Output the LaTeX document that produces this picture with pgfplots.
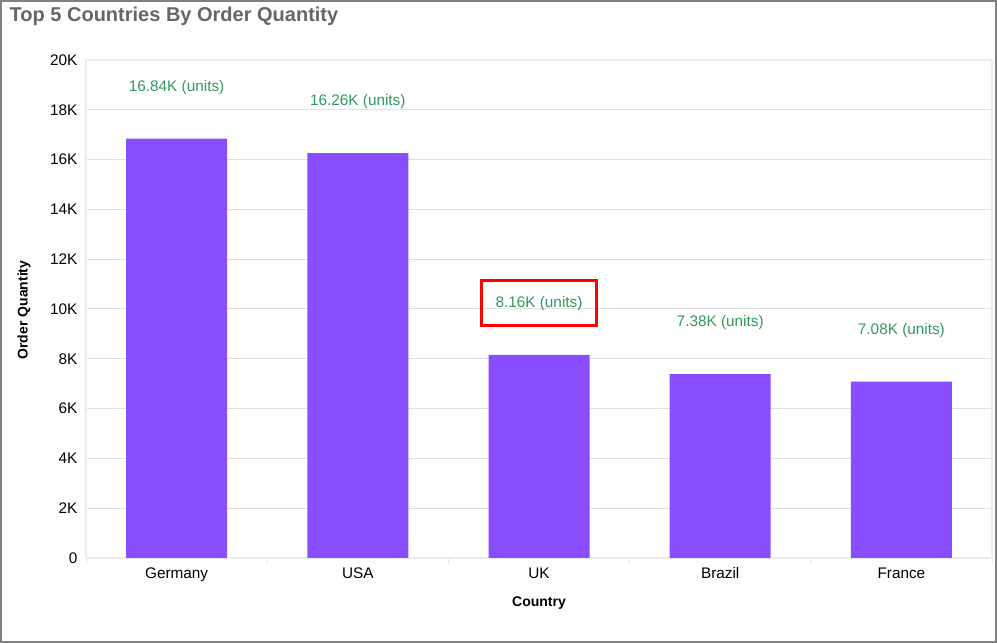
\documentclass[border=0pt]{standalone}
\usepackage{pgfplots}
\pgfplotsset{compat=1.18}
\usepackage{fontspec}
\setmainfont{Liberation Sans}
\definecolor{barc}{RGB}{136,77,255}
\definecolor{labc}{RGB}{52,152,92}
\definecolor{titlec}{RGB}{102,102,102}
\definecolor{gridc}{RGB}{224,224,224}
\definecolor{framec}{RGB}{236,236,236}
\definecolor{borderc}{RGB}{128,128,128}
\begin{document}
\begin{tikzpicture}[x=0.75pt,y=0.75pt]
\useasboundingbox (0,0) rectangle (997,643);
\fill[white] (0,0) rectangle (997,643);
\begin{axis}[
  at={(64.5pt,63.75pt)}, anchor=south west,
  scale only axis, width=679.5pt, height=373.5pt,
  xmin=-0.5, xmax=4.5, ymin=0, ymax=20000,
  xtick={0,1,2,3,4},
  xticklabels={Germany,USA,UK,Brazil,France},
  minor xtick={-0.5,0.5,1.5,2.5,3.5,4.5},
  ytick={0,2000,4000,6000,8000,10000,12000,14000,16000,18000,20000},
  yticklabels={0,2K,4K,6K,8K,10K,12K,14K,16K,18K,20K},
  scaled y ticks=false,
  tick pos=left,
  major tick length=0pt, minor tick length=3.75pt,
  tick align=outside,
  tick style={gridc, line width=0.75pt},
  ymajorgrids, grid style={gridc, line width=0.75pt},
  axis line style={framec, line width=1.5pt},
  ticklabel style={font=\fontsize{11.5}{13}\selectfont, text=black},
  yticklabel style={xshift=-3pt},
  xticklabel style={yshift=-3.5pt, text height=8.5pt, text depth=2.5pt},
  /pgf/number format/assume math mode=true,
  clip=false,
]
\addplot[ybar, bar width=75.75pt, fill=barc, draw=none,
  nodes near coords, point meta=explicit symbolic,
  every node near coord/.append style={anchor=center, yshift=38.6pt, text=labc, font=\fontsize{11.5}{13}\selectfont}]
  coordinates {(0,16840) [16.84K (units)] (1,16260) [16.26K (units)] (2,8160) [8.16K (units)] (3,7380) [7.38K (units)] (4,7080) [7.08K (units)]};
\end{axis}
\draw[red, line width=2.25pt] (481,317) rectangle (596,362);
\node[anchor=west, font=\bfseries\fontsize{15}{18}\selectfont, text=titlec] at (5,626.5) {Top 5 Countries By Order Quantity};
\node[rotate=90, font=\bfseries\fontsize{10.5}{12}\selectfont] at (24,333) {Order Quantity};
\node[font=\bfseries\fontsize{10.5}{12}\selectfont] at (539,40) {Country};
\draw[borderc, line width=1.5pt] (1,1) rectangle (996,642);
\end{tikzpicture}
\end{document}
